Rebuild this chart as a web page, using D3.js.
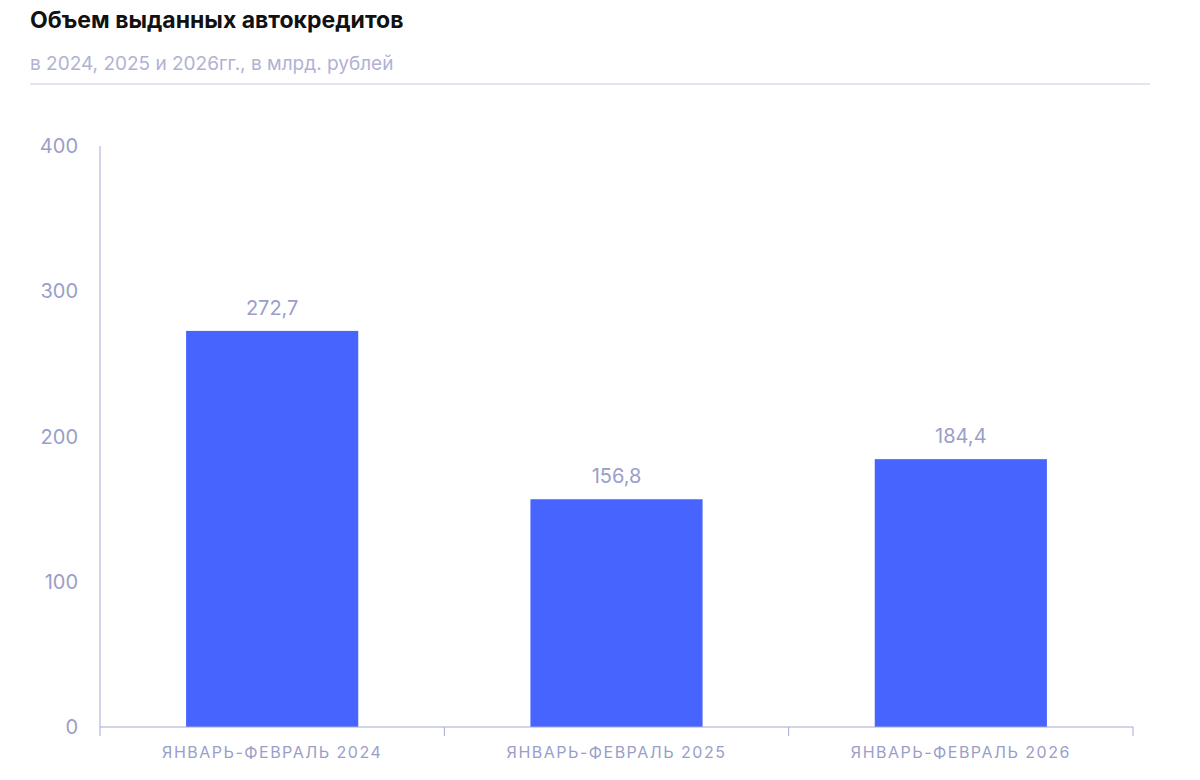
<!DOCTYPE html>
<html><head><meta charset="utf-8">
<script src="https://cdn.jsdelivr.net/npm/d3@7"></script>
<style>body{margin:0;background:#fff;font-family:Inter,"Noto Sans",sans-serif}</style>
</head><body><svg id="c" width="1200" height="780"></svg>
<script>
const categories = ["ЯНВАРЬ-ФЕВРАЛЬ 2024","ЯНВАРЬ-ФЕВРАЛЬ 2025","ЯНВАРЬ-ФЕВРАЛЬ 2026"];
const values = [272.7,156.8,184.4];
const yTicks = [0,100,200,300,400];
const svg = d3.select("#c");
const axisColor = "#a4a8d4", textColor = "#9a9ec8";
svg.append("text").attr("x",30).attr("y",28).attr("font-size",23).attr("font-weight",700).attr("fill","#111").text("Объем выданных автокредитов");
svg.append("text").attr("x",30).attr("y",70).attr("font-size",19).attr("fill","#b0b2d4").text("в 2024, 2025 и 2026гг., в млрд. рублей");
svg.append("line").attr("x1",30).attr("x2",1150).attr("y1",84).attr("y2",84).attr("stroke","#c8cae0");
const x = d3.scaleBand().domain(categories).range([100,1133]).paddingInner(0.5).paddingOuter(0.25);
const y = d3.scaleLinear().domain([0,400]).range([727,146]);
const g = svg.append("g");
g.append("line").attr("x1",100).attr("x2",100).attr("y1",y(400)).attr("y2",y(0)).attr("stroke",axisColor);
yTicks.forEach(t=>g.append("text").attr("x",78).attr("y",y(t)+7).attr("text-anchor","end").attr("font-size",20).attr("fill",textColor).text(t));
g.selectAll("rect").data(values).join("rect").attr("x",(d,i)=>x(categories[i])).attr("width",x.bandwidth()).attr("y",d=>y(d)).attr("height",d=>y(0)-y(d)).attr("fill","#4864ff");
g.selectAll(".v").data(values).join("text").attr("x",(d,i)=>x(categories[i])+x.bandwidth()/2).attr("y",d=>y(d)-16).attr("text-anchor","middle").attr("font-size",20).attr("fill",textColor).text(d=>d.toFixed(1).replace(".",","));
g.append("line").attr("x1",100).attr("x2",1133).attr("y1",y(0)).attr("y2",y(0)).attr("stroke",axisColor);
const step = x.step();
const bounds = [100].concat(categories.map((c,i)=>100+(i+1)*(1033/3)));
bounds.forEach(b=>g.append("line").attr("x1",b).attr("x2",b).attr("y1",y(0)).attr("y2",y(0)+9).attr("stroke",axisColor));
categories.forEach(c=>g.append("text").attr("x",x(c)+x.bandwidth()/2).attr("y",758).attr("text-anchor","middle").attr("font-size",16).attr("letter-spacing",1.5).attr("fill",textColor).text(c));
</script></body></html>
